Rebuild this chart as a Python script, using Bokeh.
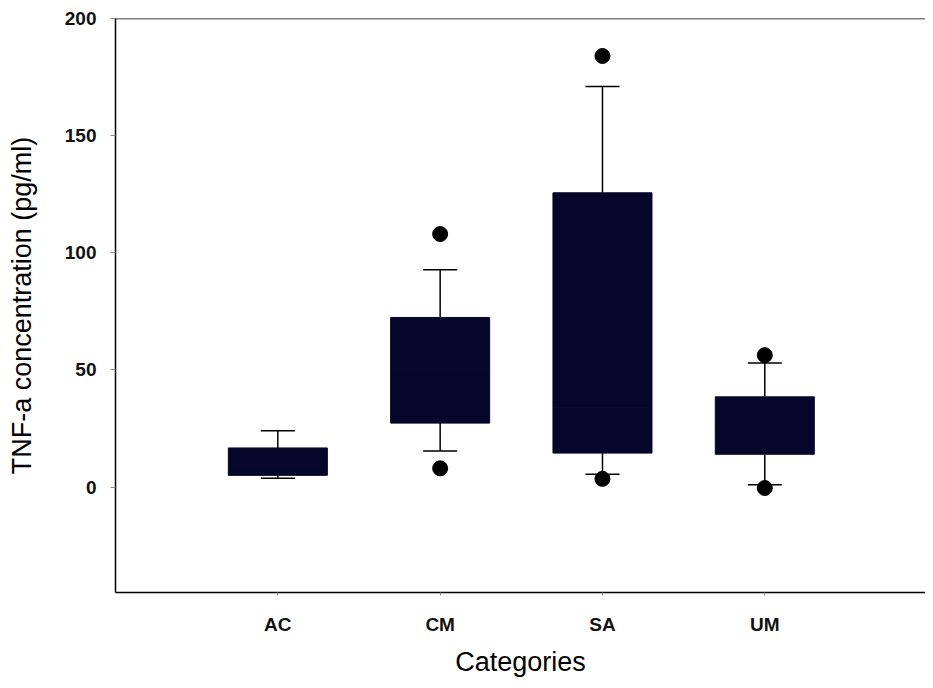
import numpy as np
from bokeh.plotting import figure
from bokeh.models import Range1d, FixedTicker, Span
from bokeh.embed import file_html
from bokeh.resources import INLINE

categories = ["AC", "CM", "SA", "UM"]
q1 = [5.0, 27.3, 14.5, 14.0]
q3 = [16.7, 72.4, 125.6, 38.5]
medians = [9.0, 50.0, 34.0, 26.0]
whisker_low = [3.8, 15.4, 5.5, 1.0]
whisker_high = [24.0, 92.8, 171.0, 53.0]
outlier_cat = ["CM", "CM", "SA", "SA", "UM", "UM"]
outlier_val = [108.0, 8.0, 184.0, 3.5, 56.3, -0.4]

BOX = "#06062b"
FONT = "Liberation Sans"

xs = np.arange(1, len(categories) + 1)
ox = [categories.index(c) + 1 for c in outlier_cat]

p = figure(width=925, height=680, output_backend="svg", toolbar_location=None,
           x_range=Range1d(0, 4.99), y_range=Range1d(-45, 200),
           min_border_left=115, min_border_top=18, min_border_right=0,
           min_border_bottom=88)

# whiskers + caps
p.segment(xs, whisker_low, xs, q1, line_color="black", line_width=1.5)
p.segment(xs, q3, xs, whisker_high, line_color="black", line_width=1.5)
p.segment(xs - 0.105, whisker_low, xs + 0.105, whisker_low, line_color="black", line_width=1.5)
p.segment(xs - 0.105, whisker_high, xs + 0.105, whisker_high, line_color="black", line_width=1.5)

# boxes
p.vbar(x=xs, width=0.61, bottom=q1, top=q3, fill_color=BOX, line_color=BOX)
p.segment(xs - 0.3, medians, xs + 0.3, medians, line_color="#0a0a30", line_width=1)

# outliers
p.scatter(ox, outlier_val, size=15, color="black")

p.add_layout(Span(location=200, dimension="width", line_color="black", line_width=1.5))

p.outline_line_color = None
p.grid.grid_line_color = None

p.xaxis.ticker = FixedTicker(ticks=list(xs))
p.xaxis.major_label_overrides = {int(x): c for x, c in zip(xs, categories)}
p.xaxis.minor_tick_line_color = None
p.xaxis.major_tick_out = 3
p.xaxis.major_tick_in = 0
p.xaxis.major_tick_line_color = "#888888"
p.xaxis.major_label_standoff = 18
p.xaxis.axis_label = "Categories"
p.xaxis.axis_label_standoff = 9

p.yaxis.ticker = FixedTicker(ticks=[0, 50, 100, 150, 200])
p.yaxis.minor_tick_line_color = None
p.yaxis.major_tick_out = 5
p.yaxis.major_tick_in = 0
p.yaxis.major_tick_line_color = "#888888"
p.yaxis.major_label_standoff = 14
p.yaxis.axis_label = "TNF-a concentration (pg/ml)"
p.yaxis.axis_label_standoff = 25

for ax in (p.xaxis, p.yaxis):
    ax.axis_line_color = "black"
    ax.axis_line_width = 1.5
    ax.major_label_text_font = FONT
    ax.major_label_text_font_style = "bold"
    ax.major_label_text_font_size = "19px"
    ax.major_label_text_color = "#111111"
    ax.axis_label_text_font = FONT
    ax.axis_label_text_font_style = "normal"
    ax.axis_label_text_font_size = "27px"
    ax.axis_label_text_color = "black"

open("out.html", "w").write(file_html(p, INLINE))
